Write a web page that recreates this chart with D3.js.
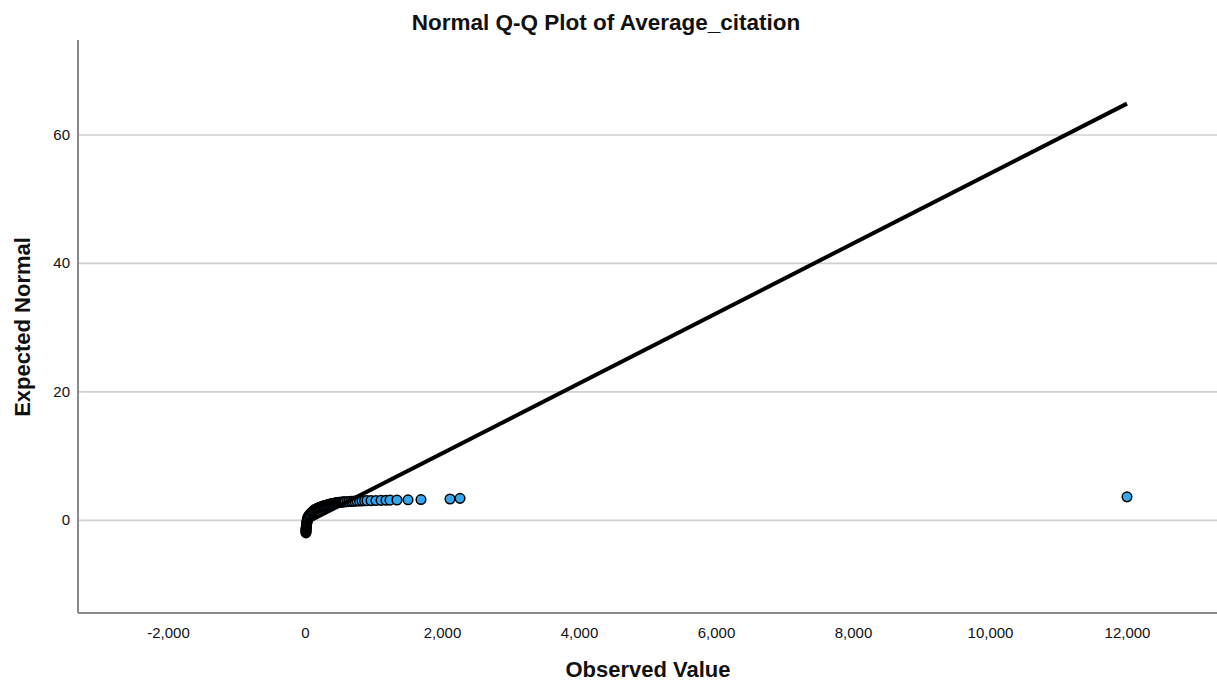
<!DOCTYPE html>
<html>
<head>
<meta charset="utf-8">
<script src="https://cdn.jsdelivr.net/npm/d3@7"></script>
<style>
  html, body { margin: 0; padding: 0; background: #fff; }
  svg { display: block; }
  text { font-family: "Liberation Sans", Arial, sans-serif; fill: #111; }
</style>
</head>
<body>
<svg id="chart" width="1217" height="683"></svg>
<script>
// ---- data ----
const chartTitle = "Normal Q-Q Plot of Average_citation";
const xTitle = "Observed Value";
const yTitle = "Expected Normal";

const xTickValues = [-2000, 0, 2000, 4000, 6000, 8000, 10000, 12000];
const yTickValues = [0, 20, 40, 60];

// observed values of the plotted points
const observedValues = [
  14, 14, 15, 15, 16, 16, 21, 22, 22, 23, 28, 29, 30, 36, 37, 43, 44,
  58, 66, 73, 88, 99, 111, 123, 134, 146,
  161, 175, 190, 204, 219, 234, 248, 263, 277, 292,
  307, 321, 336, 350, 365, 380, 394, 409, 423, 438, 453, 467, 482, 496, 511, 526, 540, 555, 569, 584,
  613, 642, 672, 701, 730, 759, 796, 832, 869, 905,
  964, 1036, 1110, 1182, 1241, 1343, 1504, 1693, 2117, 2263, 12000
];
// expected normal values of the plotted points
const expectedNormal = [
  -2.02, -1.87, -1.71, -1.56, -1.40, -1.25, -1.09, -0.93, -0.78, -0.62, -0.47, -0.31, -0.16, 0.00, 0.16, 0.31, 0.47,
  0.62, 0.78, 0.90, 1.04, 1.17, 1.29, 1.40, 1.51, 1.62,
  1.70, 1.77, 1.84, 1.90, 1.96, 2.02, 2.09, 2.13, 2.18, 2.23,
  2.27, 2.32, 2.37, 2.41, 2.44, 2.49, 2.52, 2.55, 2.58, 2.61, 2.65, 2.68, 2.69, 2.72, 2.74, 2.75, 2.77, 2.79, 2.80, 2.82,
  2.83, 2.86, 2.88, 2.89, 2.91, 2.93, 2.94, 2.96, 2.97, 2.99,
  3.00, 3.02, 3.04, 3.05, 3.07, 3.09, 3.12, 3.16, 3.24, 3.35, 3.58
];

// reference line end points
const lineObserved = [0, 12000];
const lineExpected = [-0.54, 64.8];

// ---- layout ----
const plot = { left: 78, right: 1217, top: 40, bottom: 613 };

const svg = d3.select("#chart");

const x = d3.scaleLinear().domain([-3314, 13314]).range([plot.left, plot.right]);
const y = d3.scaleLinear().domain([-14.5, 74.7]).range([plot.bottom, plot.top]);

const fmt = d => d3.format(",")(d).replace("\u2212", "-");

// gridlines
svg.append("g")
  .attr("class", "grid")
  .attr("transform", `translate(${plot.left},0)`)
  .call(d3.axisLeft(y).tickValues(yTickValues).tickSize(-(plot.right - plot.left)).tickFormat(""))
  .call(g => g.select(".domain").remove())
  .call(g => g.selectAll("line").attr("stroke", "#cfcfcf").attr("stroke-width", 1.6));

// y axis labels
svg.append("g")
  .attr("transform", `translate(${plot.left},0)`)
  .call(d3.axisLeft(y).tickValues(yTickValues).tickSize(0).tickPadding(8).tickFormat(fmt))
  .call(g => g.select(".domain").remove())
  .call(g => g.selectAll("text").style("font-size", "15px").style("font-family", "'Liberation Sans', Arial, sans-serif").attr("fill", "#111"));

// x axis labels
svg.append("g")
  .attr("transform", `translate(0,${plot.bottom})`)
  .call(d3.axisBottom(x).tickValues(xTickValues).tickSize(0).tickPadding(14).tickFormat(fmt))
  .call(g => g.select(".domain").remove())
  .call(g => g.selectAll("text").style("font-size", "15px").style("font-family", "'Liberation Sans', Arial, sans-serif").attr("fill", "#111"));

// axis lines
svg.append("line")
  .attr("x1", plot.left).attr("x2", plot.left)
  .attr("y1", plot.top).attr("y2", plot.bottom)
  .attr("stroke", "#8a8a8a").attr("stroke-width", 2);
svg.append("line")
  .attr("x1", plot.left).attr("x2", plot.right)
  .attr("y1", plot.bottom).attr("y2", plot.bottom)
  .attr("stroke", "#8a8a8a").attr("stroke-width", 2);

// points
const pts = observedValues.map((v, i) => ({ obs: v, exp: expectedNormal[i] }));
svg.append("g")
  .selectAll("circle")
  .data(pts)
  .join("circle")
  .attr("cx", d => x(d.obs))
  .attr("cy", d => y(d.exp))
  .attr("r", 4.8)
  .attr("fill", "#36a6ee")
  .attr("stroke", "#000")
  .attr("stroke-width", 1.5);

// reference line
const lineData = lineObserved.map((v, i) => ({ obs: v, exp: lineExpected[i] }));
svg.append("path")
  .datum(lineData)
  .attr("fill", "none")
  .attr("stroke", "#000")
  .attr("stroke-width", 4)
  .attr("d", d3.line().x(d => x(d.obs)).y(d => y(d.exp)));

// titles
svg.append("text")
  .attr("x", 606).attr("y", 30)
  .attr("text-anchor", "middle")
  .style("font-size", "22.5px").style("font-weight", "bold")
  .text(chartTitle);

svg.append("text")
  .attr("x", 648).attr("y", 677)
  .attr("text-anchor", "middle")
  .style("font-size", "22px").style("font-weight", "bold")
  .text(xTitle);

svg.append("text")
  .attr("transform", `translate(30,327) rotate(-90)`)
  .attr("text-anchor", "middle")
  .style("font-size", "22px").style("font-weight", "bold")
  .text(yTitle);
</script>
</body>
</html>
